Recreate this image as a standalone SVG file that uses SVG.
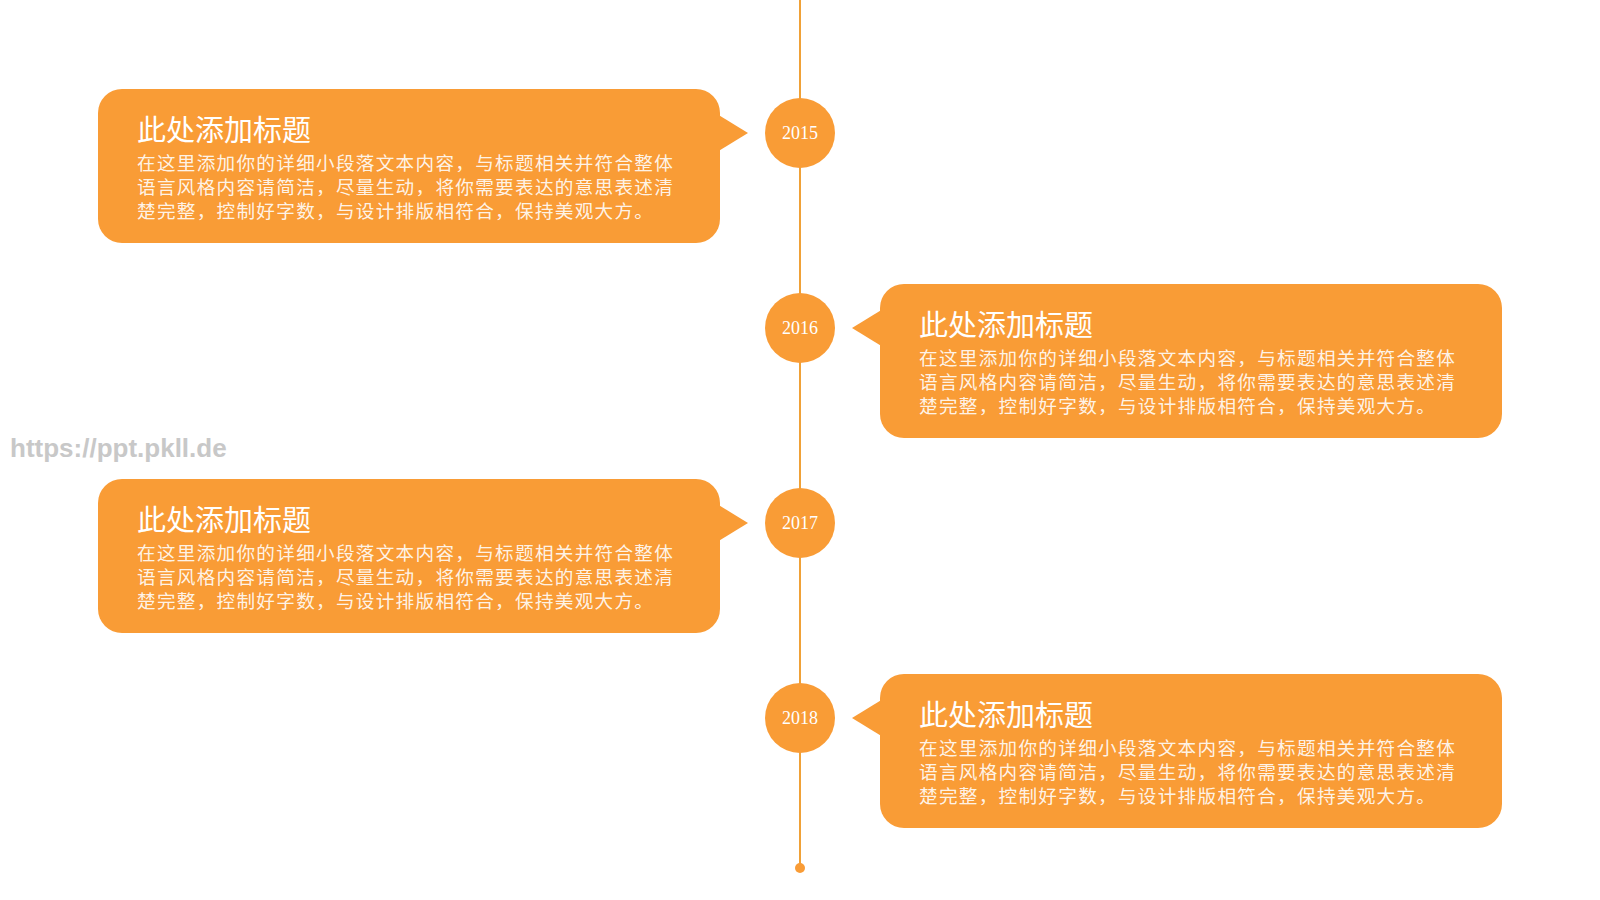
<svg xmlns="http://www.w3.org/2000/svg" width="1600" height="900" viewBox="0 0 1600 900">
<style>
.box{fill:#F99C36}
.dot{fill:#F99C36}
.yr{font-family:"Liberation Serif",serif;font-size:18px;fill:#fff;text-anchor:middle}
.t{font-family:"Noto Sans CJK SC",sans-serif;font-size:29px;fill:#fff}
.b{font-family:"Noto Sans CJK SC",sans-serif;font-size:18.6px;letter-spacing:1.3px;fill:#fff;fill-opacity:0.9}
</style>
<rect width="1600" height="900" fill="#fff"/>
<g id="connectors"><line x1="800" y1="0" x2="800" y2="868" stroke="#F0A137" stroke-width="2"/><circle cx="800" cy="868" r="5" class="dot"/></g>
<text x="10" y="457" font-family="Liberation Sans,sans-serif" font-size="26" font-weight="bold" fill="#c8c8c8">https://ppt.pkll.de</text>
<g id="n2015">
<rect x="98" y="89" width="622" height="154" rx="24" class="box"/><path d="M717 114 L748 133 L717 152Z" class="box"/>
<circle cx="800" cy="133" r="35" class="dot"/><text x="800" y="139" class="yr">2015</text>
<text x="137" y="141" class="t">此处添加标题</text>
<text x="137" y="170" class="b">在这里添加你的详细小段落文本内容，与标题相关并符合整体</text>
<text x="137" y="194" class="b">语言风格内容请简洁，尽量生动，将你需要表达的意思表述清</text>
<text x="137" y="218" class="b">楚完整，控制好字数，与设计排版相符合，保持美观大方。</text>
</g>
<g id="n2016">
<rect x="880" y="284" width="622" height="154" rx="24" class="box"/><path d="M883 309 L852 328 L883 347Z" class="box"/>
<circle cx="800" cy="328" r="35" class="dot"/><text x="800" y="334" class="yr">2016</text>
<text x="919" y="336" class="t">此处添加标题</text>
<text x="919" y="365" class="b">在这里添加你的详细小段落文本内容，与标题相关并符合整体</text>
<text x="919" y="389" class="b">语言风格内容请简洁，尽量生动，将你需要表达的意思表述清</text>
<text x="919" y="413" class="b">楚完整，控制好字数，与设计排版相符合，保持美观大方。</text>
</g>
<g id="n2017">
<rect x="98" y="479" width="622" height="154" rx="24" class="box"/><path d="M717 504 L748 523 L717 542Z" class="box"/>
<circle cx="800" cy="523" r="35" class="dot"/><text x="800" y="529" class="yr">2017</text>
<text x="137" y="531" class="t">此处添加标题</text>
<text x="137" y="560" class="b">在这里添加你的详细小段落文本内容，与标题相关并符合整体</text>
<text x="137" y="584" class="b">语言风格内容请简洁，尽量生动，将你需要表达的意思表述清</text>
<text x="137" y="608" class="b">楚完整，控制好字数，与设计排版相符合，保持美观大方。</text>
</g>
<g id="n2018">
<rect x="880" y="674" width="622" height="154" rx="24" class="box"/><path d="M883 699 L852 718 L883 737Z" class="box"/>
<circle cx="800" cy="718" r="35" class="dot"/><text x="800" y="724" class="yr">2018</text>
<text x="919" y="726" class="t">此处添加标题</text>
<text x="919" y="755" class="b">在这里添加你的详细小段落文本内容，与标题相关并符合整体</text>
<text x="919" y="779" class="b">语言风格内容请简洁，尽量生动，将你需要表达的意思表述清</text>
<text x="919" y="803" class="b">楚完整，控制好字数，与设计排版相符合，保持美观大方。</text>
</g>
</svg>
